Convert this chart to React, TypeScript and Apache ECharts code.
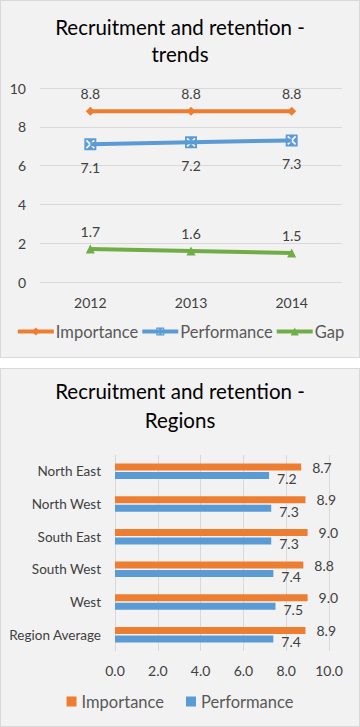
import React, { useEffect, useRef } from "react";
import * as echarts from "echarts";

const years = ["2012", "2013", "2014"];
const importanceTrend = [8.8, 8.8, 8.8];
const performanceTrend = [7.1, 7.2, 7.3];
const gapTrend = [1.7, 1.6, 1.5];

const regions = ["North East", "North West", "South East", "South West", "West", "Region Average"];
const importanceRegion = [8.7, 8.9, 9.0, 8.8, 9.0, 8.9];
const performanceRegion = [7.2, 7.3, 7.3, 7.4, 7.5, 7.4];

const ORANGE = "#ED7D31";
const BLUE = "#5B9BD5";
const GREEN = "#70AD47";
const TXT = "#404040";
const FONT = "Lato, 'Open Sans', sans-serif";

const squareX =
  "path://M0,0 L10,0 L10,10 L0,10 Z M1.2,2.2 L3.9,5 L1.2,7.8 L2.2,8.8 L5,6.1 L7.8,8.8 L8.8,7.8 L6.1,5 L8.8,2.2 L7.8,1.2 L5,3.9 L2.2,1.2 Z";

function Chart({ option, width, height }: { option: any; width: number; height: number }) {
  const ref = useRef<HTMLDivElement>(null);
  useEffect(() => {
    const chart = echarts.init(ref.current!, undefined, { renderer: "svg" });
    chart.setOption(option);
    return () => chart.dispose();
  }, []);
  return <div ref={ref} style={{ width, height }} />;
}

export default function App() {
  useEffect(() => {
    document.body.style.margin = "0";
  }, []);

  const fmt = (p: any) => p.value.toFixed(1);

  const trendOption = {
    animation: false,
    backgroundColor: "#f2f2f2",
    textStyle: { fontFamily: FONT },
    title: {
      text: "Recruitment and retention -\ntrends",
      left: "center",
      top: 7,
      textStyle: { fontSize: 20.5, fontWeight: "normal", color: "#000", lineHeight: 27, fontFamily: FONT },
    },
    grid: { left: 39, right: 17, top: 87, bottom: 75 },
    xAxis: {
      type: "category",
      data: years,
      boundaryGap: true,
      axisLine: { show: false },
      axisTick: { show: false },
      axisLabel: { color: TXT, fontSize: 14, margin: 13, fontFamily: FONT },
    },
    yAxis: {
      type: "value",
      min: 0,
      max: 10,
      interval: 2,
      axisLine: { show: false },
      axisTick: { show: false },
      axisLabel: { color: TXT, fontSize: 14, margin: 14, fontFamily: FONT },
      splitLine: { lineStyle: { color: "#d9d9d9", width: 1 } },
    },
    legend: {
      bottom: 12,
      left: "center",
      itemGap: 2,
      itemWidth: 36,
      itemHeight: 10,
      lineStyle: { width: 4 },
      textStyle: { color: "#595959", fontSize: 16.5, fontFamily: FONT, padding: [0, 0, 0, -3] },
      data: ["Importance", "Performance", "Gap"],
    },
    series: [
      {
        name: "Importance",
        type: "line",
        data: importanceTrend,
        color: ORANGE,
        lineStyle: { width: 4, color: ORANGE },
        symbol: "diamond",
        symbolSize: 9,
        itemStyle: { color: ORANGE },
        label: { show: true, position: "top", distance: 6, color: TXT, fontSize: 14, fontFamily: FONT, formatter: fmt },
      },
      {
        name: "Performance",
        type: "line",
        data: performanceTrend,
        color: BLUE,
        lineStyle: { width: 4, color: BLUE },
        symbol: squareX,
        symbolSize: 12,
        itemStyle: { color: BLUE },
        label: { show: true, position: "bottom", distance: 10, color: TXT, fontSize: 14, fontFamily: FONT, formatter: fmt },
      },
      {
        name: "Gap",
        type: "line",
        data: gapTrend,
        color: GREEN,
        lineStyle: { width: 4, color: GREEN },
        symbol: "triangle",
        symbolSize: 9,
        itemStyle: { color: GREEN },
        label: { show: true, position: "top", distance: 6, color: TXT, fontSize: 14, fontFamily: FONT, formatter: fmt },
      },
    ],
  };

  const regionOption = {
    animation: false,
    backgroundColor: "#f2f2f2",
    textStyle: { fontFamily: FONT },
    title: {
      text: "Recruitment and retention -\nRegions",
      left: "center",
      top: 2,
      textStyle: { fontSize: 20.5, fontWeight: "normal", color: "#000", lineHeight: 29, fontFamily: FONT },
    },
    grid: { left: 114, right: 30, top: 86, bottom: 75 },
    xAxis: {
      type: "value",
      min: 0,
      max: 10,
      interval: 2,
      axisLine: { show: false },
      axisTick: { show: false },
      axisLabel: { color: TXT, fontSize: 14, margin: 12, fontFamily: FONT, formatter: (v: number) => v.toFixed(1) },
      splitLine: { lineStyle: { color: "#d9d9d9", width: 1 } },
    },
    yAxis: {
      type: "category",
      data: regions,
      inverse: true,
      axisLine: { show: true, lineStyle: { color: "#d9d9d9" } },
      axisTick: { show: false },
      axisLabel: { color: TXT, fontSize: 13.5, margin: 14, fontFamily: FONT },
    },
    legend: {
      bottom: 11,
      left: "center",
      itemGap: 22,
      itemWidth: 10,
      itemHeight: 10,
      icon: "rect",
      textStyle: { color: "#595959", fontSize: 16.5, fontFamily: FONT },
      data: ["Importance", "Performance"],
    },
    series: [
      {
        name: "Importance",
        type: "bar",
        data: importanceRegion,
        barWidth: 7,
        barGap: "22%",
        itemStyle: { color: ORANGE },
        label: { show: true, position: "right", distance: 11, color: TXT, fontSize: 14, fontFamily: FONT, formatter: fmt },
      },
      {
        name: "Performance",
        type: "bar",
        data: performanceRegion,
        barWidth: 7,
        itemStyle: { color: BLUE },
        label: { show: true, position: "right", distance: 8, offset: [0, 3], color: TXT, fontSize: 14, fontFamily: FONT, formatter: fmt },
      },
    ],
  };

  const boxStyle: React.CSSProperties = {
    position: "absolute",
    left: 0,
    width: 360,
    boxSizing: "border-box",
    border: "1px solid #d9d9d9",
    background: "#f2f2f2",
  };

  return (
    <div style={{ position: "relative", width: 360, height: 727, background: "#fff" }}>
      <div style={{ ...boxStyle, top: 0, height: 358 }}>
        <Chart option={trendOption} width={358} height={356} />
      </div>
      <div style={{ ...boxStyle, top: 368, height: 359 }}>
        <Chart option={regionOption} width={358} height={357} />
      </div>
    </div>
  );
}
